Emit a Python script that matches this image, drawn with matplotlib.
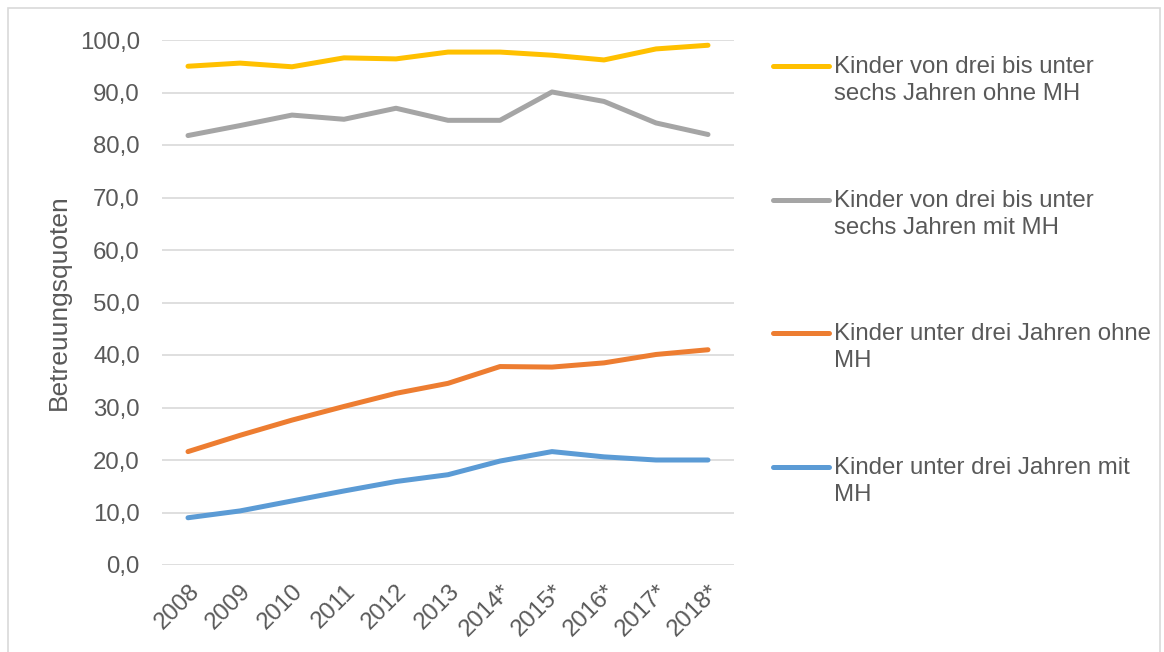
import matplotlib.pyplot as plt
from matplotlib.lines import Line2D
from matplotlib.patches import Rectangle

# --- Daten ---
jahre = ["2008", "2009", "2010", "2011", "2012", "2013",
         "2014*", "2015*", "2016*", "2017*", "2018*"]

drei_sechs_ohne_mh = [95.0, 95.6, 94.9, 96.6, 96.4, 97.7, 97.7, 97.1, 96.2, 98.3, 99.0]
drei_sechs_mit_mh = [81.8, 83.7, 85.7, 84.9, 87.0, 84.7, 84.7, 90.1, 88.3, 84.2, 82.0]
unter_drei_ohne_mh = [21.6, 24.7, 27.6, 30.2, 32.7, 34.6, 37.8, 37.7, 38.5, 40.1, 41.0]
unter_drei_mit_mh = [9.0, 10.3, 12.2, 14.1, 15.9, 17.2, 19.8, 21.6, 20.6, 20.0, 20.0]

labels = [
    "Kinder von drei bis unter\nsechs Jahren ohne MH",
    "Kinder von drei bis unter\nsechs Jahren mit MH",
    "Kinder unter drei Jahren ohne\nMH",
    "Kinder unter drei Jahren mit\nMH",
]
farben = ["#FFC000", "#A5A5A5", "#ED7D31", "#5B9BD5"]
serien = [drei_sechs_ohne_mh, drei_sechs_mit_mh, unter_drei_ohne_mh, unter_drei_mit_mh]

TEXT = "#595959"
FS = 17.3
plt.rcParams['font.family'] = ['Liberation Sans', 'DejaVu Sans']

W, H = 1164, 652
fig = plt.figure(figsize=(W / 100, H / 100), dpi=100)
ax = fig.add_axes([162 / W, 1 - 565 / H, 572 / W, 525 / H])

x = list(range(len(jahre)))
for werte, farbe in zip(serien, farben):
    ax.plot(x, werte, color=farbe, lw=3.6, solid_capstyle='round', zorder=3)

ax.set_xlim(-0.5, len(jahre) - 0.5)
ax.set_ylim(0, 100)
ax.set_yticks(range(0, 101, 10))
ax.set_yticklabels([f"{v},0" for v in range(0, 101, 10)])
ax.set_xticks(x)
ax.set_xticklabels(jahre, rotation=45, ha='right', rotation_mode='anchor')

ax.grid(axis='y', color='#D9D9D9', lw=1.2)
ax.set_axisbelow(True)
for s in ax.spines.values():
    s.set_visible(False)
ax.tick_params(length=0, colors=TEXT, labelsize=FS)
ax.tick_params(axis='y', pad=16)
ax.tick_params(axis='x', pad=11)
ax.set_ylabel("Betreuungsquoten", color=TEXT, fontsize=19, labelpad=6)

# Legende rechts, Linie auf Höhe der ersten Textzeile
leg_y = [66, 200, 333, 467]
for farbe, label, yy in zip(farben, labels, leg_y):
    yf = 1 - yy / H
    fig.add_artist(Line2D([773 / W, 829 / W], [yf, yf], color=farbe, lw=3.6,
                          solid_capstyle='round', transform=fig.transFigure))
    fig.text(834 / W, 1 - (yy - 10) / H, label, color=TEXT, fontsize=FS,
             va='top', ha='left', linespacing=1.3)

# Rahmen um das Diagramm
fig.add_artist(Rectangle((8 / W, -0.01), 1 - 12 / W, 1 - 8 / H + 0.01,
                         transform=fig.transFigure, fill=False,
                         edgecolor='#D9D9D9', lw=1.2))

fig.savefig("out.png", dpi=100)
